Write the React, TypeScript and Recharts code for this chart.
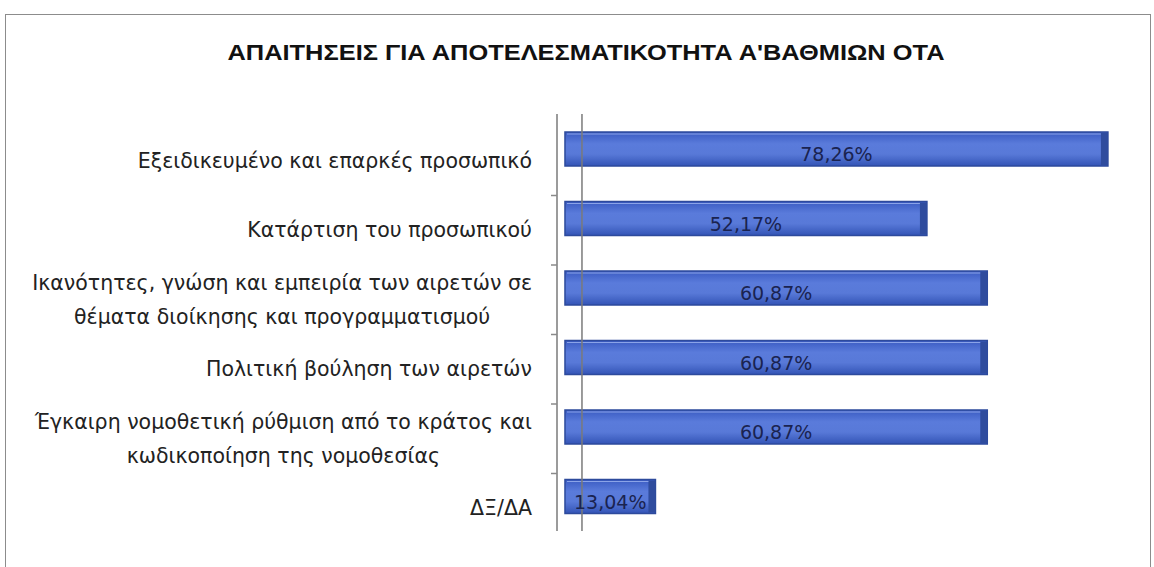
import React from "react";
import { BarChart, Bar, XAxis, YAxis, LabelList, ReferenceLine } from "recharts";

const title = "ΑΠΑΙΤΗΣΕΙΣ ΓΙΑ ΑΠΟΤΕΛΕΣΜΑΤΙΚΟΤΗΤΑ Α'ΒΑΘΜΙΩΝ ΟΤΑ";

const categories = [
  "Εξειδικευμένο και επαρκές προσωπικό",
  "Κατάρτιση του προσωπικού",
  "Ικανότητες, γνώση και εμπειρία των αιρετών σε θέματα διοίκησης και προγραμματισμού",
  "Πολιτική βούληση των αιρετών",
  "Έγκαιρη νομοθετική ρύθμιση από το κράτος και κωδικοποίηση της νομοθεσίας",
  "ΔΞ/ΔΑ",
];

// how each category label wraps in the picture
const labelLines = [
  ["Εξειδικευμένο και επαρκές προσωπικό"],
  ["Κατάρτιση του προσωπικού"],
  ["Ικανότητες, γνώση και εμπειρία των αιρετών σε", "θέματα διοίκησης και προγραμματισμού"],
  ["Πολιτική βούληση των αιρετών"],
  ["Έγκαιρη νομοθετική ρύθμιση από το κράτος και", "κωδικοποίηση της νομοθεσίας"],
  ["ΔΞ/ΔΑ"],
];

const values = [78.26, 52.17, 60.87, 60.87, 60.87, 13.04];

const data = categories.map((name, i) => ({ name, value: values[i] }));

const fmt = (v: number) => v.toFixed(2).replace(".", ",") + "%";

const LABEL_FONT = "'DejaVu Sans', 'Open Sans', sans-serif";
const LABEL_SIZE = 20.5;

let ctx: CanvasRenderingContext2D | null = null;
const measure = (s: string) => {
  if (!ctx) ctx = document.createElement("canvas").getContext("2d");
  if (!ctx) return s.length * 11;
  ctx.font = `${LABEL_SIZE}px ${LABEL_FONT}`;
  return ctx.measureText(s).width;
};

const BAND = 69.5;

const CategoryTick = (props: any) => {
  const { x, y, payload, index } = props;
  const idx = categories.indexOf(payload.value);
  const lines = labelLines[idx] || [payload.value];
  const lh = 34;
  const right = x - 17;
  const start = y + 12 - ((lines.length - 1) * lh) / 2;
  const widest = Math.max(...lines.map(measure));
  const mid = right - widest / 2;
  const axisX = x + 8;
  return (
    <g>
      <text
        textAnchor={lines.length > 1 ? "middle" : "end"}
        dominantBaseline="central"
        fontFamily={LABEL_FONT}
        fontSize={LABEL_SIZE}
        fill="#222"
      >
        {lines.map((l: string, i: number) => (
          <tspan key={i} x={lines.length > 1 ? mid : right} y={start + i * lh}>
            {l}
          </tspan>
        ))}
      </text>
      {index < categories.length - 1 && (
        <line x1={axisX - 6} x2={axisX} y1={y + 12 + BAND / 2} y2={y + 12 + BAND / 2} stroke="#8a8a8a" strokeWidth={1.5} />
      )}
    </g>
  );
};

const BarShape = (props: any) => {
  const { x, y, width, height } = props;
  const cap = Math.min(7, width / 4);
  return (
    <g>
      <rect x={x} y={y} width={width} height={height} fill="url(#barGrad)" stroke="#2d4a9c" strokeWidth={1.5} />
      <rect x={x + width - cap} y={y + 1} width={cap} height={height - 2} fill="#2f4c9e" />
      <line x1={x + 2} y1={y + 2} x2={x + width - cap} y2={y + 2} stroke="#8aa3e8" strokeWidth={1} />
    </g>
  );
};

const ValueLabel = (props: any) => {
  const { x, y, width, height, value } = props;
  return (
    <text
      x={x + width / 2}
      y={y + height / 2 + 5}
      textAnchor="middle"
      dominantBaseline="central"
      fontFamily={LABEL_FONT}
      fontSize={19}
      fill="#1a2350"
    >
      {fmt(value)}
    </text>
  );
};

export default function App() {
  return (
    <div style={{ position: "absolute", left: 0, top: 0, width: 1154, height: 567, background: "#fff" }}>
      <div
        style={{
          position: "absolute",
          left: 5,
          top: 14,
          width: 1144,
          height: 560,
          border: "1.5px solid #8c8c8c",
          borderBottom: "none",
        }}
      />
      <svg width={1154} height={90} style={{ position: "absolute", left: 0, top: 0 }}>
        <text
          x={586}
          y={60}
          textAnchor="middle"
          fontFamily="'Liberation Sans Narrow', 'Liberation Sans', sans-serif"
          fontWeight="bold"
          fontSize={22}
          textLength={717}
          lengthAdjust="spacingAndGlyphs"
          fill="#111"
        >
          {title}
        </text>
      </svg>
      <div style={{ position: "absolute", left: 0, top: 0 }}>
        <BarChart
          width={1154}
          height={567}
          data={data}
          layout="vertical"
          margin={{ top: 114, right: 34, bottom: 36, left: 0 }}
        >
          <defs>
            <linearGradient id="barGrad" x1="0" y1="0" x2="0" y2="1">
              <stop offset="0%" stopColor="#3a5bc2" />
              <stop offset="35%" stopColor="#5a7bdb" />
              <stop offset="65%" stopColor="#5879d8" />
              <stop offset="100%" stopColor="#3354b6" />
            </linearGradient>
          </defs>
          <XAxis type="number" hide domain={[-1.15, 80]} allowDataOverflow />
          <YAxis
            type="category"
            dataKey="name"
            width={557}
            axisLine={{ stroke: "#7a7a7a", strokeWidth: 1.5 }}
            tickLine={false}
            tick={CategoryTick}
          />
          <ReferenceLine x={2.45} stroke="#7a7a7a" strokeWidth={1.5} />
          <Bar dataKey="value" barSize={34} shape={BarShape} isAnimationActive={false}>
            <LabelList dataKey="value" content={ValueLabel} />
          </Bar>
        </BarChart>
      </div>
    </div>
  );
}
